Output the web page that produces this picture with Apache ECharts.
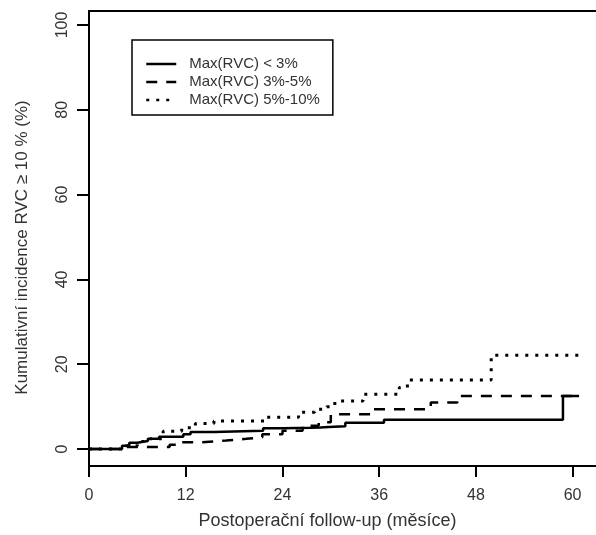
<!DOCTYPE html>
<html>
<head>
<meta charset="utf-8">
<script src="https://cdn.jsdelivr.net/npm/echarts@6/dist/echarts.min.js"></script>
<style>
  html, body { margin: 0; padding: 0; background: #fff; }
  #main { width: 596px; height: 535px; }
</style>
</head>
<body>
<div id="main"></div>
<script>
// tick labels
var xTicks = [0, 12, 24, 36, 48, 60];
var yTicks = [0, 20, 40, 60, 80, 100];

// series names
var names = ['Max(RVC) < 3%', 'Max(RVC) 3%-5%', 'Max(RVC) 5%-10%'];

// step curves: months and cumulative incidence (%)
var lowMonths = [0, 4.1, 5, 6, 7.3, 8.7, 11.7, 12.6, 15.5, 21.6, 24.1, 27.5, 28.7, 29.7, 31.8, 36.6, 58.8, 60.8];
var lowValues = [0, 0.8, 1.5, 1.9, 2.4, 2.9, 3.5, 4.0, 4.3, 4.9, 5.0, 5.1, 5.2, 5.4, 6.2, 6.9, 12.5, 12.5];

var midMonths = [0, 4.7, 10, 11.5, 14, 17, 19.5, 21.5, 24, 26.5, 28.5, 30, 35, 42.4, 45.7, 61];
var midValues = [0, 0.5, 1.0, 1.6, 2.0, 2.4, 2.8, 3.5, 4.3, 5.5, 6.3, 8.2, 9.4, 11.0, 12.5, 12.5];

var highMonths = [0, 4.1, 6, 7.6, 9.2, 11.5, 13.2, 15.5, 22, 26, 28, 29.5, 30.5, 34, 38.5, 39.5, 49.9, 61];
var highValues = [0, 0.8, 1.8, 2.4, 4.2, 5.0, 6.0, 6.6, 7.5, 8.7, 9.4, 10.0, 11.3, 12.9, 14.5, 16.3, 22.1, 22.1];

function pairs(xs, ys) {
  return xs.map(function (x, i) { return [x, ys[i]]; });
}

var chart = echarts.init(document.getElementById('main'));

var font = 'Liberation Sans, Arial, sans-serif';

var option = {
  backgroundColor: '#fff',
  animation: false,
  grid: { left: 89, right: 0, top: 11, bottom: 68, show: false },
  legend: {
    orient: 'vertical',
    left: 132, top: 40,
    padding: [16, 13, 7, 13],
    itemGap: 2,
    itemWidth: 30,
    itemHeight: 14,
    borderColor: '#000',
    borderWidth: 1.5,
    itemStyle: { opacity: 0 },
    lineStyle: { width: 2.5 },
    textStyle: { fontFamily: font, fontSize: 15, color: '#333', lineHeight: 16, padding: [0, 0, 0, 8] },
    data: names
  },
  xAxis: [{
    type: 'value',
    min: 0, max: 62.9,
    name: 'Postoperační follow-up (měsíce)',
    nameLocation: 'middle',
    nameGap: 46,
    nameTextStyle: { fontFamily: font, fontSize: 18, color: '#333', padding: [0, 30, 0, 0] },
    axisLine: { show: true, onZero: false, lineStyle: { color: '#000', width: 2 } },
    axisTick: { show: true, inside: false, length: 11, customValues: xTicks, lineStyle: { color: '#000', width: 2 } },
    axisLabel: { customValues: xTicks, margin: 22, fontFamily: font, fontSize: 16, color: '#333' },
    splitLine: { show: false }
  }, {
    // top edge of the plot box
    type: 'value', position: 'top',
    min: 0, max: 62.9,
    axisLine: { show: true, onZero: false, lineStyle: { color: '#000', width: 2 } },
    axisTick: { show: false },
    axisLabel: { show: false },
    splitLine: { show: false }
  }],
  yAxis: {
    type: 'value',
    min: -4, max: 103.3,
    name: 'Kumulativní incidence RVC ≥ 10 % (%)',
    nameLocation: 'middle',
    nameGap: 58,
    nameTextStyle: { fontFamily: font, fontSize: 17, color: '#333', padding: [0, 18, 0, 0] },
    axisLine: { show: true, onZero: false, lineStyle: { color: '#000', width: 2 } },
    axisTick: { show: true, length: 12, customValues: yTicks, lineStyle: { color: '#000', width: 2 } },
    axisLabel: { customValues: yTicks, rotate: 90, margin: 18, fontFamily: font, fontSize: 16, color: '#333' },
    splitLine: { show: false }
  },
  series: [
    {
      name: names[0], type: 'line', step: 'end', symbol: 'none',
      lineStyle: { color: '#000', width: 2.5, type: 'solid' },
      itemStyle: { color: '#000' },
      data: pairs(lowMonths, lowValues), z: 3
    },
    {
      name: names[1], type: 'line', step: 'end', symbol: 'none',
      lineStyle: { color: '#000', width: 2.5, type: [11, 9] },
      itemStyle: { color: '#000' },
      data: pairs(midMonths, midValues), z: 2
    },
    {
      name: names[2], type: 'line', step: 'end', symbol: 'none',
      lineStyle: { color: '#000', width: 3, type: [3, 7] },
      itemStyle: { color: '#000' },
      data: pairs(highMonths, highValues), z: 1
    }
  ]
};

chart.setOption(option);
</script>
</body>
</html>
